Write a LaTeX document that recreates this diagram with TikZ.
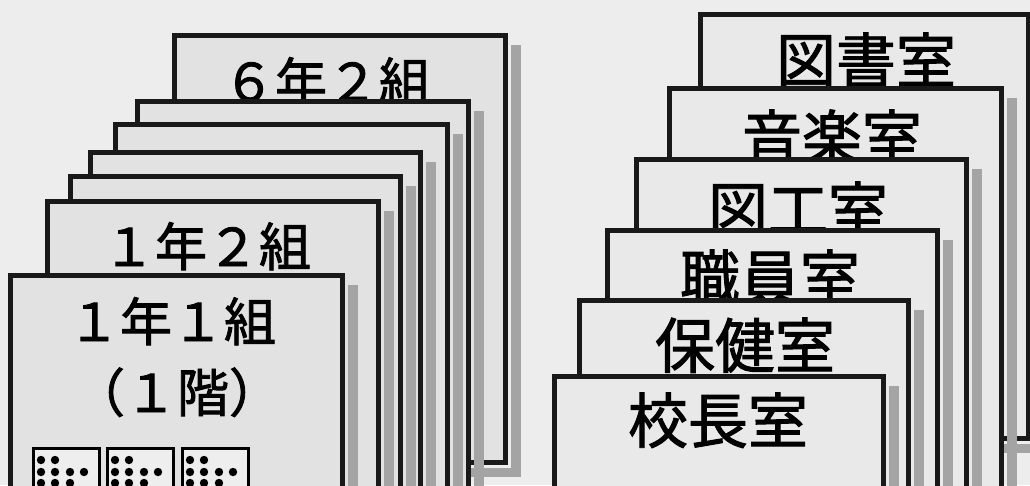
\documentclass[tikz,border=0pt]{standalone}
\usepackage{fontspec}
\newfontfamily\jp[FakeBold=1.6]{Noto Sans CJK JP}
\definecolor{bgc}{HTML}{EDEDED}
\definecolor{cardL}{HTML}{E2E2E2}
\definecolor{cardR}{HTML}{E9E9E9}
\definecolor{shc}{HTML}{A4A4A4}
\tikzset{
  card/.style={draw=black!90, line width=5pt, fill=#1, rectangle, inner sep=0pt, outer sep=0pt, anchor=north west},
  shadowc/.style={fill=shc, draw=none},
  lblL/.style={anchor=base, inner sep=0pt, font=\jp\fontsize{52}{60}\selectfont},
  lblR/.style={anchor=base, inner sep=0pt, font=\jp\fontsize{60}{70}\selectfont},
  icon/.style={draw=black, line width=3pt, fill=cardL!60!white, rectangle, inner sep=0pt, anchor=north west, minimum width=66pt, minimum height=60pt},
}
% name, left, top, right, bottom, fill
\newcommand\mkcard[6]{%
  \fill[shadowc] (#4+6,#3+10) rectangle (#4+16,#5+15);
  \fill[shadowc] (#2+10,#5+6) rectangle (#4+16,#5+15);
  \pgfmathsetmacro\cw{#4-#2}\pgfmathsetmacro\ch{#5-#3}%
  \node[card=#6, minimum width=\cw pt, minimum height=\ch pt] (#1) at (#2,#3) {};
}
\newcommand\mkicon[2]{%
  \node[icon] (#1) at (#2,447) {};
  \foreach \dx/\dy in {9/13, 23/13, 9/25, 23/25, 38/25, 52/25, 9/36, 23/36, 38/36}
    \fill (#2+\dx,447+\dy) circle (4.2pt);
}
\begin{document}
\begin{tikzpicture}[x=1pt,y=-1pt]
\useasboundingbox (0,0) rectangle (1030,485);
\clip (0,0) rectangle (1030,485);
\fill[bgc] (0,0) rectangle (1030,485);
% ---------- left stack ----------
\mkcard{A}{174}{35}{505}{462}{cardL}
\node[lblL] (tA) at (327,101) {６年２組};
\mkcard{B}{137}{101}{468}{500}{cardL}
\mkcard{C}{115}{124}{447}{500}{cardL}
\mkcard{D}{90}{152}{420}{500}{cardL}
\mkcard{E}{70}{176}{400}{500}{cardL}
\mkcard{F}{47}{201}{378}{500}{cardL}
\node[lblL] (tF) at (207,266) {１年２組};
\mkcard{G}{10}{275}{342}{500}{cardL}
\node[lblL] (tG) at (172,341) {１年１組};
\node[lblL] (tG2) at (177,412) {（１階）};
\mkicon{i1}{32}
\mkicon{i2}{106}
\mkicon{i3}{181}
% ---------- right stack ----------
\mkcard{R1}{700}{14}{1028}{438}{cardR}
\node[lblR] (tR1) at (866,83) {図書室};
\mkcard{R2}{669}{88}{1001}{500}{cardR}
\node[lblR] (tR2) at (832,160) {音楽室};
\mkcard{R3}{636}{159}{966}{500}{cardR}
\node[lblR] (tR3) at (798,232) {図工室};
\mkcard{R4}{607}{230}{937}{500}{cardR}
\node[lblR] (tR4) at (770,300) {職員室};
\mkcard{R5}{579}{300}{908}{500}{cardR}
\node[lblR] (tR5) at (745,368) {保健室};
\mkcard{R6}{554}{376}{883}{500}{cardR}
\node[lblR] (tR6) at (718,443) {校長室};
\end{tikzpicture}
\end{document}
